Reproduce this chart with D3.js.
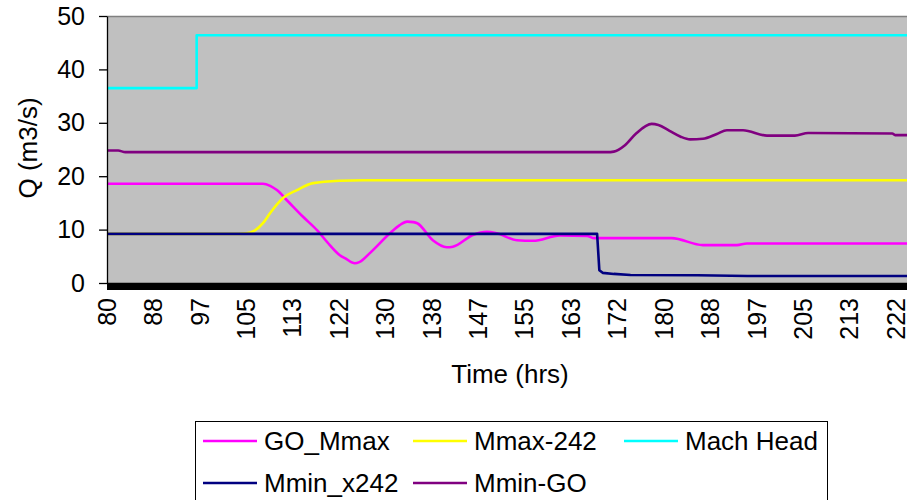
<!DOCTYPE html>
<html>
<head>
<meta charset="utf-8">
<script src="https://cdn.jsdelivr.net/npm/d3@7"></script>
<style>
  html, body { margin: 0; padding: 0; background: #fff; }
  svg { display: block; font-family: "Liberation Sans", Arial, sans-serif; }
</style>
</head>
<body>
<svg id="chart" width="907" height="500"></svg>
<script>
// Flow series (hours, m3/s)
const goMmaxHours = [80, 108.0, 109.3, 110.5, 112.3, 115.2, 117.7, 120.0, 121.8, 122.8, 124.5, 125.3, 127.2, 130.8, 132.5, 133.9, 135.0, 135.7, 138.5, 141.0, 142.1, 145.7, 148.2, 150.0, 153.6, 156.5, 161.3, 166.2, 167.5, 181.4, 187.0, 193.1, 194.9, 224];
const goMmaxValues = [18.6, 18.6, 18.2, 17.4, 15.5, 12.4, 9.9, 7.1, 5.2, 4.6, 3.7, 3.9, 5.6, 9.3, 10.8, 11.5, 11.4, 11.2, 8.0, 6.7, 6.8, 9.0, 9.6, 9.3, 8.0, 7.9, 8.9, 8.8, 8.4, 8.4, 7.1, 7.1, 7.4, 7.4];

const mmax242Hours = [80, 102.5, 105.0, 106.5, 108.0, 109.3, 111.6, 114.1, 117.0, 121.8, 126, 224];
const mmax242Values = [9.2, 9.2, 9.3, 9.8, 11.2, 13.1, 15.9, 17.4, 18.7, 19.15, 19.25, 19.25];

const machHeadHours = [80, 96.1, 96.1, 224];
const machHeadValues = [36.5, 36.5, 46.4, 46.4];

const mminX242Hours = [80, 168.0, 168.4, 169.0, 171.0, 174.0, 186.0, 195.0, 224];
const mminX242Values = [9.2, 9.2, 2.4, 1.9, 1.7, 1.5, 1.45, 1.3, 1.3];

const mminGoHours = [80, 82, 83.3, 169.8, 171, 173, 175, 177.8, 179, 181, 183, 184.7, 187, 189.5, 191.3, 194.2, 198.5, 203.5, 205.9, 221.0, 221.5, 224];
const mminGoValues = [24.8, 24.8, 24.5, 24.5, 24.6, 25.8, 28.0, 29.8, 29.6, 28.5, 27.4, 26.9, 27.0, 27.9, 28.6, 28.6, 27.6, 27.6, 28.1, 28.0, 27.7, 27.7];

const seriesNames = ["GO_Mmax", "Mmax-242", "Mach Head", "Mmin_x242", "Mmin-GO"];
const seriesColors = ["#FF00FF", "#FFFF00", "#00FFFF", "#000080", "#800080"];

// Category labels on the time axis: one every 25/3 hours
const timeTickLabels = ["80", "88", "97", "105", "113", "122", "130", "138", "147", "155", "163", "172", "180", "188", "197", "205", "213", "222"];
const timeLabelStep = 25 / 3;
const timeMinorStep = 1 / 6;
const flowTicks = [0, 10, 20, 30, 40, 50];

const series = [
  { hours: goMmaxHours, values: goMmaxValues, smooth: true },
  { hours: mmax242Hours, values: mmax242Values, smooth: true },
  { hours: machHeadHours, values: machHeadValues, smooth: false },
  { hours: mminX242Hours, values: mminX242Values, smooth: false },
  { hours: mminGoHours, values: mminGoValues, smooth: true }
].map((s, i) => ({
  name: seriesNames[i],
  color: seriesColors[i],
  smooth: s.smooth,
  points: s.hours.map((h, j) => ({ h, v: s.values[j] }))
}));

const svg = d3.select("#chart");
const plot = { left: 107, right: 909, top: 16, bottom: 283 };

const x = d3.scaleLinear().domain([80, 224]).range([plot.left, plot.right]);
const y = d3.scaleLinear().domain([0, 50]).range([plot.bottom, plot.top]);

// Plot area
svg.append("rect")
  .attr("x", plot.left).attr("y", plot.top)
  .attr("width", plot.right - plot.left).attr("height", plot.bottom - plot.top)
  .attr("fill", "#C0C0C0");
svg.append("line")
  .attr("x1", plot.left).attr("x2", plot.right)
  .attr("y1", plot.top + 0.5).attr("y2", plot.top + 0.5)
  .attr("stroke", "#808080").attr("stroke-width", 1.5);

// Series lines
svg.append("clipPath").attr("id", "plotClip")
  .append("rect").attr("x", plot.left).attr("y", plot.top - 3)
  .attr("width", plot.right - plot.left).attr("height", plot.bottom - plot.top + 6);

const lines = svg.append("g").attr("clip-path", "url(#plotClip)");
series.forEach(s => {
  const gen = d3.line()
    .x(d => x(d.h)).y(d => y(d.v))
    .curve(s.smooth ? d3.curveMonotoneX : d3.curveLinear);
  lines.append("path")
    .datum(s.points)
    .attr("d", gen)
    .attr("fill", "none")
    .attr("stroke", s.color)
    .attr("stroke-width", 2.6)
    .attr("stroke-linejoin", "round");
});

// Y axis
const yAxis = svg.append("g")
  .attr("transform", `translate(${plot.left},0)`)
  .call(d3.axisLeft(y).tickValues(flowTicks).tickSize(8).tickPadding(14).tickSizeOuter(0));
yAxis.select(".domain").attr("stroke", "#000").attr("stroke-width", 1.3);
yAxis.selectAll(".tick line").attr("stroke", "#000").attr("stroke-width", 1.3);
yAxis.selectAll(".tick text").attr("font-size", 25).attr("fill", "#000")
  .attr("font-family", "Liberation Sans, Arial, sans-serif");

// X axis: dense category ticks
const minorTicks = d3.range(80, 224 + 1e-9, timeMinorStep);
const xAxis = svg.append("g")
  .attr("transform", `translate(0,${plot.bottom})`)
  .call(d3.axisBottom(x).tickValues(minorTicks).tickSize(7).tickFormat("").tickSizeOuter(0));
xAxis.select(".domain").attr("stroke", "#000").attr("stroke-width", 1.3);
xAxis.selectAll(".tick line").attr("stroke", "#000").attr("stroke-width", 1)
  .attr("shape-rendering", "crispEdges");

// X tick labels, rotated
const labelData = timeTickLabels.map((t, i) => ({ t, h: 80 + i * timeLabelStep }));
svg.append("g").selectAll("text")
  .data(labelData)
  .join("text")
  .attr("transform", d => `translate(${x(d.h)},298) rotate(-90)`)
  .attr("text-anchor", "end")
  .attr("dy", "0.35em")
  .attr("font-size", 25)
  .attr("fill", "#000")
  .text(d => d.t);

// Axis titles
svg.append("text")
  .attr("x", 510).attr("y", 383)
  .attr("text-anchor", "middle")
  .attr("font-size", 26)
  .text("Time (hrs)");
svg.append("text")
  .attr("transform", "translate(37,148) rotate(-90)")
  .attr("text-anchor", "middle")
  .attr("font-size", 26)
  .text("Q (m3/s)");

// Legend
const legend = svg.append("g");
legend.append("rect")
  .attr("x", 195.5).attr("y", 421.5).attr("width", 632).attr("height", 100)
  .attr("fill", "#fff").attr("stroke", "#000").attr("stroke-width", 1);
const legendPos = [
  { x: 203, y: 441 }, { x: 413, y: 441 }, { x: 624, y: 441 },
  { x: 203, y: 483 }, { x: 413, y: 483 }
];
series.forEach((s, i) => {
  const p = legendPos[i];
  legend.append("line")
    .attr("x1", p.x).attr("x2", p.x + 54)
    .attr("y1", p.y).attr("y2", p.y)
    .attr("stroke", s.color).attr("stroke-width", 2.6);
  legend.append("text")
    .attr("x", p.x + 61).attr("y", p.y)
    .attr("dy", "0.35em")
    .attr("font-size", 26)
    .text(s.name);
});
</script>
</body>
</html>
